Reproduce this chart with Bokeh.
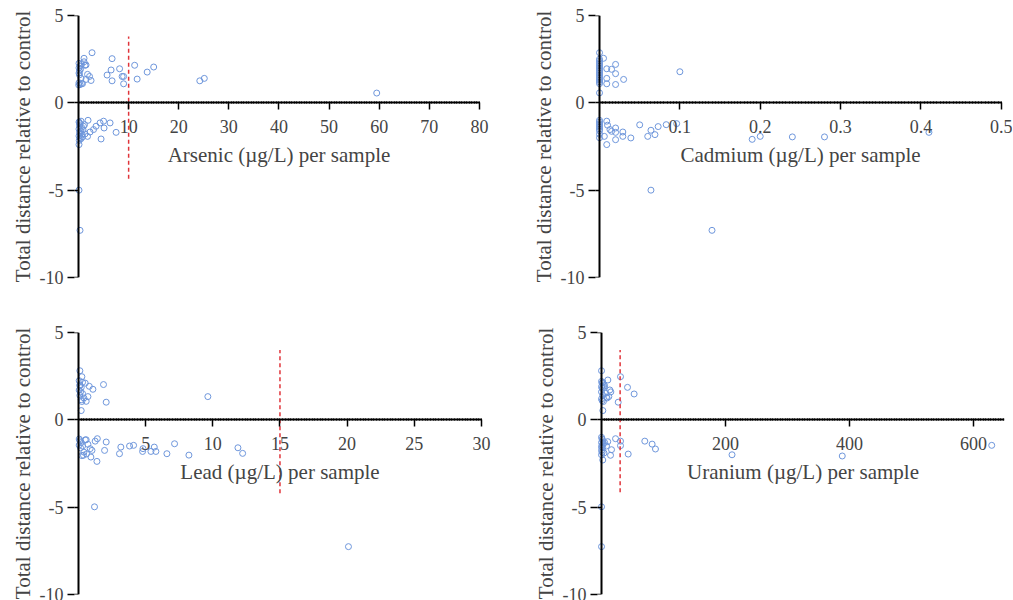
from bokeh.plotting import figure
from bokeh.layouts import column, row
from bokeh.models import FixedTicker, LinearAxis
from bokeh.embed import file_html
from bokeh.resources import INLINE
import numpy as np

SERIF = "Liberation Serif"
DOT = "#6f97dc"
RED = "#e0343a"

# ---------------- data ----------------
arsenic_x = [2.7, 1.1, 6.7, 11.2, 15.0, 13.7, 8.2, 6.5, 5.7, 8.7, 9.0, 6.7, 9.0, 11.7, 24.2, 25.1, 59.5,
             0.1, 0.3, 0.6, 1.3, 1.5, 0.2, 0.4, 1.8, 2.2, 2.5, 1.5, 0.1, 0.3, 0.6, 0.05, 0.1, 0.2, 0.5, 0.1, 0.8, 1.1,
             1.9, 5.0, 4.3, 6.3, 3.5, 5.1, 3.0, 2.3, 7.5, 4.5, 1.8, 1.0, 1.3, 0.1, 0.1, 0.3,
             0.1, 0.3, 0.5, 0.2, 0.6, 0.1, 0.4, 0.2, 0.7, 0.1, 0.3, 0.5, 0.9, 1.2, 0.15, 0.8, 0.2, 0.4]
arsenic_y = [2.87, 2.55, 2.53, 2.15, 2.05, 1.76, 1.95, 1.88, 1.59, 1.51, 1.51, 1.26, 1.09, 1.36, 1.26, 1.40, 0.56,
             2.26, 2.1, 2.2, 2.15, 2.17, 1.82, 1.92, 1.63, 1.51, 1.28, 1.34, 1.15, 1.05, 1.09, 1.02, 2.0, 1.6, 1.4, 1.7, 1.1, 2.35,
             -1.0, -1.05, -1.15, -1.15, -1.34, -1.44, -1.53, -1.67, -1.69, -2.07, -1.92, -1.34, -1.78, -2.39, -5.0, -7.3,
             -1.1, -1.2, -1.05, -1.3, -1.4, -1.5, -1.6, -1.7, -1.8, -1.9, -2.0, -2.05, -1.55, -1.25, -2.15, -1.95, -1.15, -1.75]

cadmium_x = [0, 0.005, 0.02, 0.009, 0.015, 0.02, 0.03, 0.009, 0.009, 0.02, 0.1, 0,
             0, 0, 0, 0, 0, 0, 0, 0, 0, 0, 0, 0, 0, 0, 0,
             0, 0, 0, 0, 0, 0, 0, 0, 0,
             0.009, 0.01, 0.013, 0.015, 0.02, 0.02, 0.029, 0.029, 0.02, 0.009, 0.006, 0.039, 0.05, 0.064,
             0.06, 0.069, 0.073, 0.083, 0.096, 0.19, 0.2, 0.24, 0.28, 0.41, 0.064, 0.14]
cadmium_y = [2.87, 2.55, 2.2, 1.95, 1.92, 1.67, 1.34, 1.4, 1.09, 1.05, 1.78, 0.57,
             2.5, 2.4, 2.3, 2.2, 2.1, 2.0, 1.9, 1.8, 1.7, 1.6, 1.5, 1.4, 1.3, 1.2, 1.1,
             -1.0, -1.1, -1.2, -1.3, -1.4, -1.5, -1.6, -1.8, -2.0,
             -1.05, -1.28, -1.53, -1.63, -1.44, -1.69, -1.67, -1.92, -2.11, -2.39, -1.92, -2.01, -1.26, -1.57,
             -1.92, -1.82, -1.36, -1.25, -1.19, -2.09, -1.92, -1.95, -1.95, -1.69, -5.0, -7.3]

lead_x = [0.1, 0.25, 0.3, 0.05, 0.8, 1.07, 1.86, 0.7, 0.57, 0.25, 2.06, 0.2, 9.63,
          0.1, 0.2, 0.05, 0.15, 0.3, 0.1, 0.4, 0.2, 0.5, 0.1,
          1.4, 2.06, 1.24, 0.57, 0.87, 1.0, 0.92, 0.37, 1.37, 1.94, 3.15, 3.05, 3.8, 4.1, 4.77, 4.8,
          5.39, 5.64, 5.76, 6.58, 7.15, 8.22, 11.87, 12.22, 1.19, 20.1,
          0.05, 0.1, 0.2, 0.05, 0.3, 0.15, 0.4, 0.6, 0.25, 0.7, 0.5]
lead_y = [2.81, 2.47, 2.15, 2.24, 1.92, 1.75, 2.02, 1.33, 1.06, 1.05, 1.01, 0.53, 1.33,
          2.0, 1.85, 1.7, 1.6, 1.5, 1.4, 1.25, 1.15, 2.1, 1.95,
          -1.08, -1.27, -1.22, -1.14, -1.65, -1.75, -2.13, -2.03, -2.38, -1.75, -1.56, -1.94, -1.50, -1.46, -1.81, -1.65,
          -1.81, -1.56, -1.81, -1.94, -1.37, -2.02, -1.6, -1.92, -4.98, -7.26,
          -1.1, -1.2, -1.3, -1.45, -1.5, -1.6, -1.85, -1.95, -2.05, -1.4, -1.15]

uranium_x = [0, 10.2, 30.6, 41.9, 52.6, 13.4, 6.4, 11.8, 26.9, 2.1,
             0, 1, 2, 3, 0, 1, 4, 5, 0, 2, 8, 0, 1, 3, 9, 15,
             22.6, 30.6, 30.6, 69.8, 81.6, 87.0, 43.0, 16.1, 14.5, 210.5, 388.3, 629.4, 0, 0,
             0, 1, 2, 0, 3, 1, 0, 2, 5, 0, 1, 4, 8, 0, 10, 2]
uranium_y = [2.81, 2.28, 2.47, 1.86, 1.48, 1.71, 1.52, 1.33, 1.01, 0.53,
             2.2, 2.1, 2.15, 2.0, 1.9, 1.8, 1.85, 1.95, 1.6, 1.4, 1.3, 1.2, 1.1, 1.05, 1.25, 1.6,
             -1.08, -1.22, -1.48, -1.22, -1.39, -1.67, -1.96, -1.71, -2.03, -2.0, -2.07, -1.46, -4.98, -7.26,
             -1.0, -1.1, -1.2, -1.3, -1.35, -1.45, -1.55, -1.6, -1.3, -1.75, -1.85, -1.9, -1.5, -2.0, -1.25, -2.3]

# guideline limits (x position, y extent)
arsenic_limit = [10, -4.35, 3.8]
lead_limit = [15, -4.2, 4.0]
uranium_limit = [30, -4.15, 4.0]

arsenic_ticks = [10, 20, 30, 40, 50, 60, 70, 80]
cadmium_ticks = [0.1, 0.2, 0.3, 0.4, 0.5]
lead_ticks = [5, 10, 15, 20, 25, 30]
uranium_ticks = [200, 400, 600]
y_ticks = [-10, -5, 0, 5]
y_tick_labels = ["-10", "-5", "0", "5"]

Y_LABEL = "Total distance relative to control"


def panel(xs, ys, label, xr, x_axis_end, majors, minor_step, limit, w, h, bl, br, bt, bb):
    p = figure(width=w, height=h, x_range=xr, y_range=(-10, 5),
               output_backend="svg", toolbar_location=None, title=None,
               min_border_left=bl, min_border_right=br, min_border_top=bt, min_border_bottom=bb)
    p.outline_line_color = None
    p.xgrid.visible = False
    p.ygrid.visible = False
    p.background_fill_color = "white"
    p.border_fill_color = "white"

    minors = list(np.round(np.arange(minor_step, x_axis_end + minor_step / 2, minor_step), 6))
    xa = p.xaxis[0]
    xa.fixed_location = 0
    xa.bounds = (0, x_axis_end)
    xa.ticker = FixedTicker(ticks=majors, minor_ticks=minors)
    xa.axis_line_width = 2
    xa.major_tick_line_width = 1.5
    xa.major_tick_out = 7
    xa.major_tick_in = 0
    xa.minor_tick_in = 1
    xa.minor_tick_out = 1
    xa.minor_tick_line_width = 1
    xa.major_label_text_font = SERIF
    xa.major_label_text_font_size = "18px"
    xa.major_label_standoff = 10
    xa.axis_label = label
    xa.axis_label_text_font = SERIF
    xa.axis_label_text_font_size = "21px"
    xa.axis_label_text_font_style = "normal"
    xa.axis_label_standoff = 7

    # outer y axis: tick labels + title, drawn at the frame's left edge
    ya = p.yaxis[0]
    ya.ticker = FixedTicker(ticks=y_ticks, minor_ticks=[])
    ya.major_label_overrides = {t: s for t, s in zip(y_ticks, y_tick_labels)}
    ya.axis_line_color = None
    ya.major_tick_line_width = 1.5
    ya.major_tick_out = 7
    ya.major_tick_in = 0
    ya.minor_tick_in = 0
    ya.minor_tick_out = 0
    ya.major_label_text_font = SERIF
    ya.major_label_text_font_size = "18px"
    ya.major_label_standoff = 4
    ya.axis_label = Y_LABEL
    ya.axis_label_text_font = SERIF
    ya.axis_label_text_font_size = "21px"
    ya.axis_label_text_font_style = "normal"
    ya.axis_label_standoff = 2

    # spine at x = 0
    spine = LinearAxis(fixed_location=0, ticker=FixedTicker(ticks=y_ticks, minor_ticks=[]))
    spine.axis_line_width = 2
    spine.major_tick_line_width = 1.5
    spine.major_tick_out = 11
    spine.major_tick_in = 0
    spine.minor_tick_in = 0
    spine.minor_tick_out = 0
    spine.major_label_text_color = None
    p.add_layout(spine, "left")

    p.scatter(xs, ys, marker="circle", size=6, fill_color=None,
              line_color=DOT, line_width=1)
    if limit is not None:
        p.segment(x0=[limit[0]], y0=[limit[1]], x1=[limit[0]], y1=[limit[2]],
                  line_color=RED, line_width=1.5, line_dash="4 3")
    return p


p1 = panel(arsenic_x, arsenic_y, "Arsenic (\u00b5g/L) per sample", (-0.8, 82.4), 80, arsenic_ticks, 0.5,
           arsenic_limit, 506, 300, 74, 15, 15, 23)
p2 = panel(cadmium_x, cadmium_y, "Cadmium (\u00b5g/L) per sample", (-0.005, 0.514), 0.5, cadmium_ticks, 0.004,
           None, 507, 300, 89, 1, 15, 23)
p3 = panel(lead_x, lead_y, "Lead (\u00b5g/L) per sample", (-0.3, 30.9), 30, lead_ticks, 0.2,
           lead_limit, 506, 300, 74, 13, 32, 6)
p4 = panel(uranium_x, uranium_y, "Uranium (\u00b5g/L) per sample", (-6.5, 650), 650, uranium_ticks, 4,
           uranium_limit, 507, 300, 91, 9, 32, 6)

layout = column(row(p1, p2), row(p3, p4))
open("out.html", "w").write(file_html(layout, INLINE))
